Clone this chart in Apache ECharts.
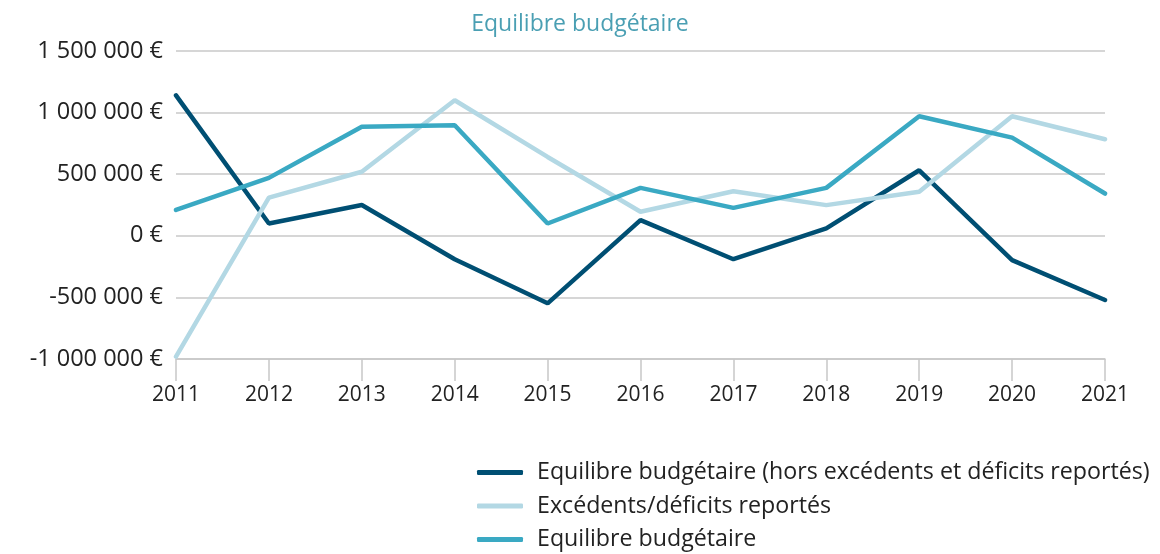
<!DOCTYPE html>
<html>
<head>
<meta charset="utf-8">
<script src="https://cdn.jsdelivr.net/npm/echarts@6/dist/echarts.min.js"></script>
<style>
  html, body { margin: 0; padding: 0; background: #fff; }
  #chart { width: 1160px; height: 554px; }
</style>
</head>
<body>
<div id="chart"></div>
<script>
// données
const annees = ["2011", "2012", "2013", "2014", "2015", "2016", "2017", "2018", "2019", "2020", "2021"];
const horsReports = [1140000, 100000, 250000, -190000, -548000, 127000, -190000, 60000, 532000, -197000, -521000];
const reports = [-980000, 310000, 520000, 1100000, 640000, 195000, 362000, 249000, 357000, 970000, 784000];
const equilibre = [210000, 470000, 885000, 897000, 100000, 389000, 227000, 389000, 970000, 797000, 343000];

const police = "Open Sans";

function formatEuro(v) {
  let s = Math.abs(v).toString().replace(/\B(?=(\d{3})+(?!\d))/g, " ");
  return (v < 0 ? "-" : "") + s + " €";
}

let myChart = echarts.init(document.getElementById("chart"));
let option = {
  animation: false,
  title: {
    text: "Equilibre budgétaire",
    left: "center",
    top: 8,
    textStyle: { color: "#4a9fb3", fontFamily: police, fontSize: 23, fontWeight: "normal" }
  },
  grid: { left: 176, right: 55, top: 51, bottom: 195 },
  legend: {
    orient: "vertical",
    left: 477,
    top: 461,
    padding: 0,
    itemWidth: 46,
    itemHeight: 5,
    itemGap: 10.5,
    icon: "roundRect",
    textStyle: { fontFamily: police, fontSize: 23.2, color: "#222", lineHeight: 23, padding: [0, 0, 0, 9] }
  },
  xAxis: {
    type: "category",
    data: annees,
    boundaryGap: false,
    axisLine: { onZero: false, lineStyle: { color: "#c8c8c8", width: 1.5 } },
    axisTick: { show: true, length: 22, lineStyle: { color: "#c8c8c8", width: 1.5 } },
    axisLabel: { margin: 26, color: "#222", fontFamily: police, fontSize: 21 }
  },
  yAxis: {
    type: "value",
    min: -1000000,
    max: 1500000,
    interval: 500000,
    axisLine: { show: false },
    axisTick: { show: false },
    splitLine: { lineStyle: { color: "#c8c8c8", width: 1.5 } },
    axisLabel: { margin: 13, color: "#222", fontFamily: police, fontSize: 23.5, formatter: formatEuro }
  },
  series: [
    {
      name: "Equilibre budgétaire (hors excédents et déficits reportés)",
      type: "line",
      data: horsReports,
      symbol: "none",
      color: "#004f73",
      lineStyle: { width: 4.5, cap: "round" }
    },
    {
      name: "Excédents/déficits reportés",
      type: "line",
      data: reports,
      symbol: "none",
      color: "#b3d8e4",
      lineStyle: { width: 4.5, cap: "round" }
    },
    {
      name: "Equilibre budgétaire",
      type: "line",
      data: equilibre,
      symbol: "none",
      color: "#3aa9c3",
      lineStyle: { width: 4.5, cap: "round" }
    }
  ]
};
myChart.setOption(option);
</script>
</body>
</html>
